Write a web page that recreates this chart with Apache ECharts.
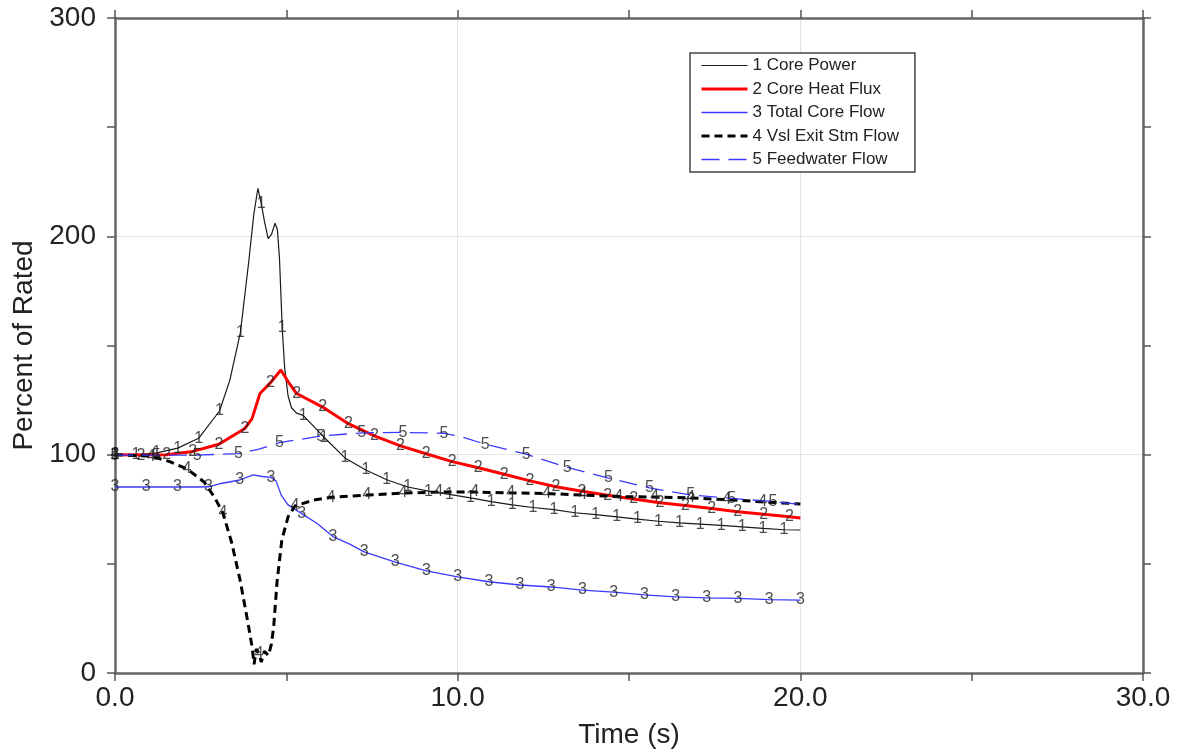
<!DOCTYPE html>
<html>
<head>
<meta charset="utf-8">
<script src="https://cdn.jsdelivr.net/npm/echarts@6/dist/echarts.min.js"></script>
<style>
  html, body { margin: 0; padding: 0; background: #fff; }
  #chart { width: 1178px; height: 755px; }
</style>
</head>
<body>
<div id="chart"></div>
<script>
// Axis tick values
const xTicks = [0, 10, 20, 30];
const yTicks = [0, 100, 200, 300];

const seriesNames = ['1 Core Power', '2 Core Heat Flux', '3 Total Core Flow', '4 Vsl Exit Stm Flow', '5 Feedwater Flow'];
const markDigits = ['1', '2', '3', '4', '5'];

// 1 Core Power (%) — samples carrying a "1" label, plus extra samples through the spike
const powerMarkT = [0, 0.61, 1.22, 1.83, 2.44, 3.05, 3.66, 4.27, 4.88, 5.49, 6.1, 6.71, 7.32, 7.93, 8.54, 9.15, 9.76, 10.37, 10.98, 11.59, 12.2, 12.81, 13.42, 14.03, 14.64, 15.25, 15.86, 16.47, 17.08, 17.69, 18.3, 18.91, 19.52];
const powerMarkV = [100, 100, 100.8, 103, 107.5, 120, 156, 215, 158, 118, 108, 98.5, 93, 88.5, 85.2, 83.3, 81.8, 80.2, 78.5, 77, 75.8, 74.8, 73.4, 72.5, 71.5, 70.5, 69.5, 68.8, 68.2, 67.6, 66.9, 66.2, 65.6];
const powerExtraT = [3.35, 3.9, 4.05, 4.17, 4.36, 4.47, 4.57, 4.67, 4.74, 4.8, 4.95, 5.05, 5.15, 5.3, 20];
const powerExtraV = [134, 188, 210, 222, 207, 199, 201, 206, 203, 190, 140, 127, 121.5, 119, 65.5];

// 2 Core Heat Flux (%)
const heatMarkT = [0, 0.76, 1.51, 2.27, 3.03, 3.79, 4.54, 5.3, 6.06, 6.81, 7.57, 8.33, 9.08, 9.84, 10.6, 11.36, 12.11, 12.87, 13.63, 14.38, 15.14, 15.9, 16.65, 17.41, 18.17, 18.93, 19.68];
const heatMarkV = [100, 99.8, 100, 101.5, 104.8, 112, 133, 128, 121.8, 114.2, 108.6, 104, 100.4, 96.8, 94, 91, 88, 85.3, 83.2, 81.4, 79.7, 78, 76.7, 75.3, 73.9, 72.7, 71.6];
const heatExtraT = [4.0, 4.23, 4.84, 5.05, 20];
const heatExtraV = [116.5, 128, 138.8, 133.5, 71];

// 3 Total Core Flow (%)
const flowMarkT = [0, 0.91, 1.82, 2.73, 3.64, 4.55, 5.45, 6.36, 7.27, 8.18, 9.09, 10, 10.91, 11.82, 12.73, 13.64, 14.55, 15.45, 16.36, 17.27, 18.18, 19.09, 20];
const flowMarkV = [85.2, 85.2, 85.2, 85.3, 88.4, 89.6, 73, 62.5, 55.5, 50.8, 46.8, 44, 41.8, 40.3, 39.4, 38, 37, 35.8, 34.9, 34.4, 34.2, 33.6, 33.4];
const flowExtraT = [2.4, 3.1, 4.03, 4.3, 4.7, 4.85, 5.05, 5.9, 6.85];
const flowExtraV = [85.2, 86.8, 90.7, 90, 88, 81.5, 77, 68.5, 59];

// 4 Vessel Exit Steam Flow (%)
const steamMarkT = [0, 1.05, 2.1, 3.15, 4.2, 5.25, 6.3, 7.35, 8.4, 9.45, 10.5, 11.55, 12.6, 13.65, 14.7, 15.75, 16.8, 17.85, 18.9];
const steamMarkV = [100, 99.3, 93.5, 73.3, 9, 76.5, 80.5, 81.5, 82.4, 82.9, 82.9, 82.5, 82.2, 81.5, 80.8, 80.6, 80.2, 79.4, 78.4];
const steamExtraT = [1.6, 2.6, 2.9, 3.4, 3.65, 3.88, 4.0, 4.06, 4.12, 4.27, 4.36, 4.48, 4.56, 4.63, 4.73, 4.87, 5.05, 5.8, 20];
const steamExtraV = [96.8, 87.5, 80.6, 60, 42.6, 23, 12, 4, 11, 5, 10, 8, 13, 21, 42, 61, 71.5, 79.2, 77.4];

// 5 Feedwater Flow (%)
const feedMarkT = [0, 1.2, 2.4, 3.6, 4.8, 6.0, 7.2, 8.4, 9.6, 10.8, 12.0, 13.2, 14.4, 15.6, 16.8, 18.0, 19.2];
const feedMarkV = [99.8, 99.8, 99.8, 100.5, 105.5, 108.5, 110, 110.2, 109.8, 104.8, 100.2, 94.2, 89.3, 84.8, 81.5, 80, 78.5];
const feedExtraT = [4.2, 10.1, 20];
const feedExtraV = [102.5, 108.3, 77.2];

const FONT = "'Liberation Sans', Arial, Helvetica, sans-serif";
const TEXT = '#222';
const AXIS = '#666';

function pairs(ts, vs) { return ts.map((t, i) => [t, vs[i]]); }
function merged(mt, mv, et, ev) {
  return pairs(mt, mv).concat(pairs(et, ev)).sort((a, b) => a[0] - b[0]);
}

const curves = [
  { mt: powerMarkT, mv: powerMarkV, et: powerExtraT, ev: powerExtraV, color: '#1a1a1a', width: 1.2, type: 'solid' },
  { mt: heatMarkT,  mv: heatMarkV,  et: heatExtraT,  ev: heatExtraV,  color: '#ff0000', width: 3,   type: 'solid' },
  { mt: flowMarkT,  mv: flowMarkV,  et: flowExtraT,  ev: flowExtraV,  color: '#3a3aff', width: 1.3, type: 'solid' },
  { mt: steamMarkT, mv: steamMarkV, et: steamExtraT, ev: steamExtraV, color: '#000000', width: 3,   type: [8, 5] },
  { mt: feedMarkT,  mv: feedMarkV,  et: feedExtraT,  ev: feedExtraV,  color: '#3a3aff', width: 1.3, type: [18, 9] }
];

const series = [];
curves.forEach((c, i) => {
  series.push({
    type: 'line',
    name: seriesNames[i],
    data: merged(c.mt, c.mv, c.et, c.ev),
    symbol: 'none',
    smooth: false,
    lineStyle: { color: c.color, width: c.width, type: c.type },
    itemStyle: { color: c.color },
    z: 2 + i
  });
});
// Curve-number labels sitting on the sampled points of each curve
curves.forEach((c, i) => {
  series.push({
    type: 'scatter',
    name: 'marks' + markDigits[i],
    data: pairs(c.mt, c.mv),
    symbol: 'circle',
    symbolSize: 2,
    itemStyle: { color: 'rgba(0,0,0,0)' },
    silent: true,
    z: 10,
    label: {
      show: true,
      position: 'inside',
      formatter: markDigits[i],
      color: '#1e1e1e',
      fontSize: 16,
      fontFamily: FONT
    }
  });
});

function frameAxis(pos, ticks, extra) {
  return Object.assign({
    type: 'value',
    position: pos,
    min: ticks[0],
    max: ticks[ticks.length - 1],
    interval: ticks[1] - ticks[0],
    axisLine: { show: true, onZero: false, lineStyle: { color: AXIS, width: 2.5 } },
    axisTick: { show: true, inside: false, length: 8, lineStyle: { color: '#555', width: 1.5 } },
    minorTick: { show: true, splitNumber: 2, length: 8, lineStyle: { color: '#555', width: 1.5 } },
    splitLine: { show: false },
    axisLabel: { show: false }
  }, extra || {});
}

const option = {
  animation: false,
  backgroundColor: '#fff',
  grid: { left: 115, right: 35, top: 18, bottom: 82 },
  legend: {
    data: seriesNames,
    orient: 'vertical',
    left: 690,
    top: 53,
    itemWidth: 46,
    itemHeight: 14,
    itemGap: 6.5,
    padding: [4, 16, 4, 10],
    borderColor: '#444',
    borderWidth: 1.5,
    backgroundColor: '#fff',
    itemStyle: { opacity: 0 },
    lineStyle: { width: 'inherit' },
    textStyle: { fontSize: 17, color: TEXT, fontFamily: FONT }
  },
  xAxis: [
    frameAxis('bottom', xTicks, {
      splitLine: { show: true, lineStyle: { color: '#e4e4e4', width: 1 } },
      axisLabel: { show: true, formatter: v => v.toFixed(1), fontSize: 28, color: TEXT, margin: 11, fontFamily: FONT },
      name: 'Time (s)',
      nameLocation: 'middle',
      nameGap: 48,
      nameTextStyle: { fontSize: 28, color: TEXT, fontFamily: FONT }
    }),
    frameAxis('top', xTicks)
  ],
  yAxis: [
    frameAxis('left', yTicks, {
      splitLine: { show: true, lineStyle: { color: '#e4e4e4', width: 1 } },
      axisLabel: { show: true, fontSize: 28, color: TEXT, margin: 19, fontFamily: FONT },
      name: 'Percent of Rated',
      nameLocation: 'middle',
      nameGap: 73,
      nameTextStyle: { fontSize: 28, color: TEXT, fontFamily: FONT }
    }),
    frameAxis('right', yTicks)
  ],
  series: series
};

const chart = echarts.init(document.getElementById('chart'), null, { renderer: 'canvas' });
chart.setOption(option);
</script>
</body>
</html>
